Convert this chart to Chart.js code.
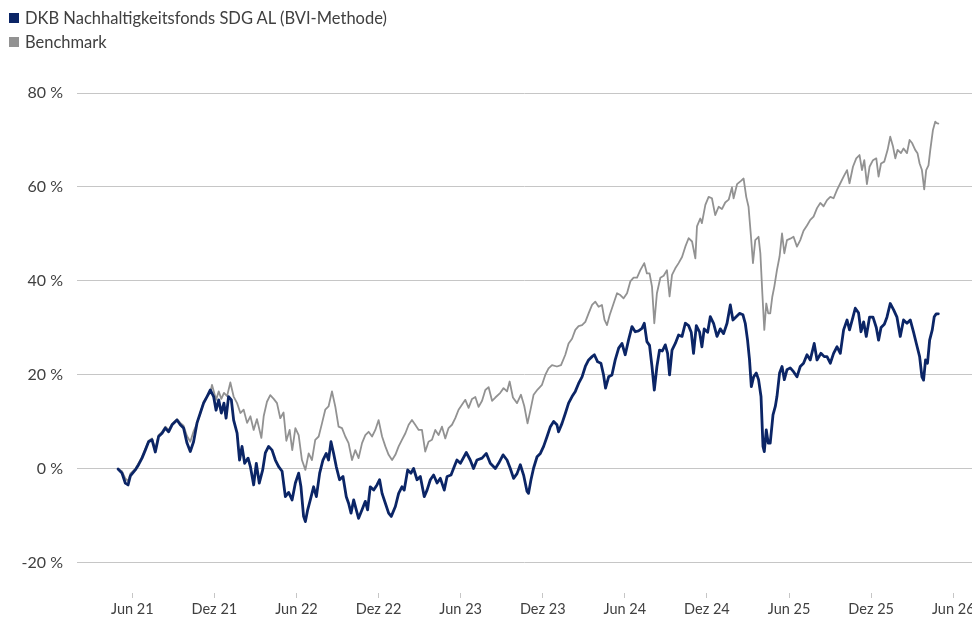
<!DOCTYPE html>
<html lang="de">
<head>
<meta charset="utf-8">
<title>DKB Nachhaltigkeitsfonds SDG AL – Wertentwicklung</title>
<script src="https://cdn.jsdelivr.net/npm/chart.js@4.4.1/dist/chart.umd.min.js"></script>
<style>
  html, body { margin: 0; padding: 0; background: #ffffff; }
  #wrap { position: relative; width: 972px; height: 621px; overflow: hidden; }
  #chart { position: absolute; left: 0; top: 0; }
  .legend-row { position: absolute; left: 0; height: 20px; line-height: 20px;
    font-family: 'Lato', sans-serif; font-size: 16.5px; color: #404040; white-space: nowrap; }
  .legend-row .sw { position: absolute; left: 9px; top: 5px; width: 10px; height: 10px; }
  .legend-row .tx { position: absolute; left: 25px; top: 0; }
</style>
</head>
<body>
<div id="wrap">
  <canvas id="chart" width="972" height="621"></canvas>
  <div class="legend-row" id="lg0" style="top:8px"><span class="sw"></span><span class="tx"></span></div>
  <div class="legend-row" id="lg1" style="top:32px"><span class="sw"></span><span class="tx"></span></div>
</div>
<script>
// Series names and colours
const seriesNames = ['DKB Nachhaltigkeitsfonds SDG AL (BVI-Methode)', 'Benchmark'];
const seriesColors = ['#0b2566', '#929292'];

// Time axis labels (month abbreviation + two-digit year)
const tickLabels = ['Jun 21', 'Dez 21', 'Jun 22', 'Dez 22', 'Jun 23', 'Dez 23',
                    'Jun 24', 'Dez 24', 'Jun 25', 'Dez 25', 'Jun 26'];
const yTicks = [-20, 0, 20, 40, 60, 80];

// Fund: observation dates (decimal years) and cumulative performance in %
const fundDates = [
  2021.330, 2021.354, 2021.374, 2021.391, 2021.405, 2021.435, 2021.455, 2021.476, 2021.496, 2021.516,
  2021.537, 2021.557, 2021.577, 2021.598, 2021.618, 2021.638, 2021.659, 2021.689, 2021.709, 2021.729,
  2021.750, 2021.770, 2021.790, 2021.811, 2021.831, 2021.851, 2021.872, 2021.892, 2021.912, 2021.927,
  2021.943, 2021.959, 2021.975, 2021.988, 2022.003, 2022.020, 2022.034, 2022.055, 2022.070, 2022.085,
  2022.101, 2022.122, 2022.136, 2022.156, 2022.172, 2022.190, 2022.211, 2022.227, 2022.247, 2022.268,
  2022.288, 2022.308, 2022.329, 2022.349, 2022.369, 2022.390, 2022.410, 2022.430, 2022.444, 2022.460,
  2022.471, 2022.485, 2022.501, 2022.521, 2022.538, 2022.558, 2022.578, 2022.598, 2022.612, 2022.627,
  2022.643, 2022.659, 2022.679, 2022.700, 2022.720, 2022.734, 2022.749, 2022.765, 2022.781, 2022.795,
  2022.816, 2022.836, 2022.850, 2022.866, 2022.887, 2022.907, 2022.923, 2022.938, 2022.958, 2022.978,
  2022.994, 2023.019, 2023.039, 2023.059, 2023.073, 2023.094, 2023.114, 2023.130, 2023.151, 2023.171,
  2023.195, 2023.212, 2023.232, 2023.252, 2023.273, 2023.293, 2023.317, 2023.334, 2023.358, 2023.378,
  2023.394, 2023.415, 2023.451, 2023.475, 2023.495, 2023.516, 2023.547, 2023.573, 2023.597, 2023.628,
  2023.648, 2023.675, 2023.699, 2023.719, 2023.739, 2023.760, 2023.780, 2023.800, 2023.821, 2023.830,
  2023.845, 2023.861, 2023.882, 2023.902, 2023.922, 2023.943, 2023.963, 2023.983, 2024.003, 2024.013,
  2024.034, 2024.054, 2024.074, 2024.095, 2024.115, 2024.135, 2024.156, 2024.176, 2024.196, 2024.217,
  2024.231, 2024.251, 2024.271, 2024.287, 2024.299, 2024.318, 2024.338, 2024.358, 2024.379, 2024.399,
  2024.419, 2024.439, 2024.460, 2024.480, 2024.500, 2024.521, 2024.535, 2024.551, 2024.567, 2024.582,
  2024.596, 2024.612, 2024.628, 2024.645, 2024.663, 2024.677, 2024.689, 2024.704, 2024.724, 2024.744,
  2024.765, 2024.785, 2024.805, 2024.821, 2024.835, 2024.852, 2024.872, 2024.886, 2024.900, 2024.921,
  2024.937, 2024.957, 2024.978, 2024.998, 2025.018, 2025.039, 2025.059, 2025.075, 2025.095, 2025.115,
  2025.136, 2025.150, 2025.164, 2025.176, 2025.187, 2025.201, 2025.217, 2025.231, 2025.246, 2025.258,
  2025.266, 2025.278, 2025.290, 2025.302, 2025.319, 2025.333, 2025.343, 2025.359, 2025.374, 2025.388,
  2025.404, 2025.424, 2025.444, 2025.465, 2025.485, 2025.505, 2025.526, 2025.546, 2025.570, 2025.587,
  2025.611, 2025.631, 2025.648, 2025.668, 2025.688, 2025.709, 2025.729, 2025.749, 2025.770, 2025.785,
  2025.806, 2025.820, 2025.840, 2025.855, 2025.871, 2025.887, 2025.907, 2025.928, 2025.948, 2025.962,
  2025.977, 2025.997, 2026.013, 2026.033, 2026.053, 2026.074, 2026.094, 2026.114, 2026.135, 2026.155,
  2026.175, 2026.192, 2026.212, 2026.226, 2026.236, 2026.248, 2026.260, 2026.273, 2026.289, 2026.301,
  2026.313, 2026.326
];
const fundValues = [
  0.0, -0.9, -3.0, -3.4, -1.5, -0.2, 0.9, 2.3, 4.0, 5.8,
  6.2, 3.6, 6.9, 7.6, 8.7, 7.9, 9.4, 10.4, 9.4, 8.7,
  5.5, 3.7, 5.8, 9.8, 11.9, 14.0, 15.4, 16.8, 15.4, 12.5,
  14.7, 11.9, 14.0, 10.8, 15.4, 14.7, 10.4, 7.6, 1.9, 4.8,
  1.2, 2.3, 0.5, -3.4, 1.2, -3.0, -0.2, 3.4, 4.8, 4.0,
  1.9, 0.5, -0.5, -5.9, -5.0, -6.6, -3.0, -0.9, -3.8, -10.1,
  -11.2, -8.7, -6.6, -3.8, -5.9, -0.9, 1.9, 3.3, 1.9, 5.8,
  3.3, 0.5, -2.3, -1.6, -5.9, -7.3, -9.4, -6.6, -8.7, -10.5,
  -8.7, -6.9, -8.7, -3.8, -4.5, -3.4, -2.3, -5.2, -7.3, -9.4,
  -10.1, -8.0, -5.2, -3.8, -4.5, -0.2, -0.9, 0.1, -2.3, -1.6,
  -5.9, -4.5, -2.3, -1.3, -3.0, -2.0, -4.5, -1.6, -1.3, 0.5,
  1.9, 1.2, 3.5, 1.9, 0.1, 1.9, 2.3, 3.3, 1.2, 0.1,
  1.2, 3.0, 1.9, 0.1, -2.0, -1.0, 0.9, -1.3, -4.8, -5.2,
  -2.3, 0.2, 2.6, 3.3, 4.8, 6.9, 9.0, 10.1, 9.4, 7.9,
  9.7, 11.8, 14.0, 15.4, 16.5, 18.2, 19.6, 21.8, 23.2, 23.9,
  24.3, 22.8, 22.5, 20.0, 17.2, 19.6, 20.0, 23.2, 25.7, 26.7,
  24.3, 27.4, 30.3, 29.2, 29.4, 29.9, 31.0, 27.1, 26.3, 21.8,
  16.8, 21.8, 25.3, 25.1, 26.4, 24.6, 20.0, 25.3, 26.7, 28.5,
  28.2, 31.0, 30.5, 29.1, 24.6, 30.5, 29.1, 26.0, 29.8, 29.1,
  32.4, 31.0, 28.2, 29.8, 28.8, 31.0, 34.9, 31.7, 32.4, 33.1,
  32.8, 31.0, 27.4, 23.2, 17.5, 19.6, 20.4, 19.0, 15.4, 4.8,
  3.7, 8.3, 5.5, 5.5, 11.5, 13.3, 15.4, 20.4, 21.8, 19.0,
  21.1, 21.5, 20.7, 19.6, 21.8, 22.5, 24.3, 23.2, 26.7, 23.2,
  24.6, 23.9, 23.9, 22.5, 24.6, 26.0, 24.6, 29.6, 31.7, 29.6,
  32.3, 34.2, 33.2, 29.2, 31.3, 28.2, 32.3, 32.3, 30.1, 27.4,
  30.1, 30.8, 32.3, 35.2, 33.9, 32.3, 28.2, 31.7, 31.0, 31.7,
  29.1, 26.7, 23.9, 19.6, 18.9, 23.2, 22.5, 27.4, 29.6, 32.4,
  33.0, 33.0
];

// Benchmark: observation dates (decimal years) and cumulative performance in %
const benchDates = [
  2021.330, 2021.354, 2021.374, 2021.391, 2021.405, 2021.435, 2021.455, 2021.476, 2021.496, 2021.516,
  2021.537, 2021.557, 2021.577, 2021.598, 2021.618, 2021.638, 2021.659, 2021.689, 2021.709, 2021.729,
  2021.750, 2021.770, 2021.790, 2021.811, 2021.831, 2021.851, 2021.872, 2021.892, 2021.902, 2021.927,
  2021.943, 2021.959, 2021.975, 2021.994, 2022.014, 2022.034, 2022.055, 2022.075, 2022.095, 2022.116,
  2022.136, 2022.156, 2022.176, 2022.203, 2022.217, 2022.237, 2022.257, 2022.278, 2022.298, 2022.318,
  2022.338, 2022.355, 2022.375, 2022.391, 2022.410, 2022.430, 2022.450, 2022.471, 2022.491, 2022.511,
  2022.531, 2022.552, 2022.572, 2022.592, 2022.612, 2022.633, 2022.653, 2022.673, 2022.694, 2022.714,
  2022.734, 2022.755, 2022.775, 2022.795, 2022.816, 2022.836, 2022.856, 2022.877, 2022.897, 2022.917,
  2022.938, 2022.958, 2022.978, 2022.999, 2023.019, 2023.039, 2023.059, 2023.080, 2023.100, 2023.120,
  2023.140, 2023.161, 2023.181, 2023.201, 2023.221, 2023.242, 2023.262, 2023.282, 2023.303, 2023.323,
  2023.343, 2023.364, 2023.384, 2023.404, 2023.445, 2023.465, 2023.486, 2023.506, 2023.526, 2023.547,
  2023.567, 2023.587, 2023.608, 2023.628, 2023.658, 2023.678, 2023.699, 2023.715, 2023.735, 2023.760,
  2023.784, 2023.804, 2023.824, 2023.841, 2023.861, 2023.885, 2023.912, 2023.932, 2023.952, 2023.973,
  2024.003, 2024.028, 2024.054, 2024.074, 2024.095, 2024.115, 2024.135, 2024.156, 2024.176, 2024.196,
  2024.217, 2024.237, 2024.257, 2024.277, 2024.293, 2024.308, 2024.324, 2024.348, 2024.369, 2024.389,
  2024.409, 2024.430, 2024.450, 2024.470, 2024.491, 2024.511, 2024.535, 2024.551, 2024.567, 2024.582,
  2024.596, 2024.612, 2024.633, 2024.653, 2024.673, 2024.689, 2024.704, 2024.724, 2024.744, 2024.765,
  2024.785, 2024.805, 2024.826, 2024.846, 2024.856, 2024.876, 2024.886, 2024.907, 2024.927, 2024.947,
  2024.967, 2024.988, 2025.008, 2025.028, 2025.049, 2025.069, 2025.079, 2025.100, 2025.124, 2025.140,
  2025.156, 2025.170, 2025.185, 2025.197, 2025.211, 2025.231, 2025.242, 2025.254, 2025.266, 2025.278,
  2025.290, 2025.302, 2025.315, 2025.327, 2025.343, 2025.359, 2025.374, 2025.388, 2025.404, 2025.424,
  2025.444, 2025.465, 2025.485, 2025.505, 2025.526, 2025.546, 2025.566, 2025.587, 2025.607, 2025.627,
  2025.648, 2025.668, 2025.688, 2025.709, 2025.729, 2025.749, 2025.770, 2025.785, 2025.806, 2025.826,
  2025.846, 2025.861, 2025.875, 2025.891, 2025.907, 2025.928, 2025.948, 2025.962, 2025.977, 2025.997,
  2026.017, 2026.033, 2026.050, 2026.064, 2026.078, 2026.098, 2026.114, 2026.135, 2026.151, 2026.167,
  2026.185, 2026.199, 2026.212, 2026.226, 2026.240, 2026.252, 2026.266, 2026.277, 2026.293, 2026.307,
  2026.317, 2026.326
];
const benchValues = [
  0.0, -0.5, -2.0, -2.6, -1.0, 0.0, 1.2, 2.6, 4.3, 6.0,
  6.5, 4.2, 7.2, 7.9, 9.0, 8.3, 9.6, 10.6, 9.8, 9.2,
  7.0, 5.8, 8.0, 9.7, 11.9, 14.3, 15.4, 16.2, 17.9, 14.7,
  16.5, 14.9, 16.2, 15.5, 18.4, 15.4, 14.0, 11.9, 12.6, 9.8,
  11.2, 8.3, 10.6, 6.6, 11.2, 14.3, 15.7, 14.9, 14.0, 10.8,
  12.0, 6.0, 8.3, 4.0, 8.7, 7.2, 1.9, -0.2, 3.3, 1.9,
  6.2, 6.9, 9.7, 12.6, 13.3, 16.5, 13.3, 9.0, 8.7, 6.9,
  5.5, 1.9, 4.0, 2.3, 5.5, 7.2, 7.9, 6.9, 8.3, 10.4,
  6.9, 4.8, 3.0, 1.9, 3.0, 4.8, 6.2, 7.6, 9.4, 10.4,
  9.4, 8.3, 8.3, 3.7, 5.8, 6.2, 8.3, 7.2, 9.0, 6.5,
  8.7, 9.4, 10.8, 12.6, 14.7, 13.0, 14.9, 15.3, 13.2, 14.5,
  16.8, 17.4, 14.5, 15.2, 16.2, 17.2, 16.5, 18.6, 15.2, 14.0,
  15.8, 13.4, 9.7, 12.4, 15.8, 16.9, 17.9, 20.0, 21.4, 22.1,
  21.8, 22.1, 24.3, 26.7, 27.7, 29.6, 30.4, 30.6, 31.3, 33.1,
  34.9, 35.6, 34.5, 34.9, 31.7, 30.6, 32.7, 35.2, 37.4, 37.0,
  36.3, 37.4, 39.9, 40.7, 40.7, 42.3, 43.8, 41.6, 41.6, 38.8,
  31.0, 37.4, 40.7, 41.1, 42.3, 36.7, 41.3, 42.7, 43.8, 45.1,
  47.3, 49.1, 48.4, 44.8, 51.6, 53.3, 52.3, 56.2, 57.9, 57.6,
  54.0, 55.8, 55.3, 56.7, 57.3, 59.9, 57.6, 60.6, 61.3, 61.8,
  57.9, 55.8, 49.4, 43.8, 48.7, 49.4, 45.9, 37.4, 29.6, 35.2,
  33.1, 33.1, 36.7, 38.8, 42.3, 45.2, 50.1, 45.9, 48.7, 49.0,
  49.4, 47.3, 48.7, 50.7, 51.8, 53.0, 53.7, 55.5, 56.6, 55.9,
  57.2, 57.9, 57.6, 59.4, 60.8, 62.2, 63.6, 60.8, 64.3, 66.1,
  66.8, 63.6, 65.7, 60.6, 64.3, 65.7, 66.1, 62.2, 65.0, 65.4,
  67.9, 70.7, 68.6, 66.1, 67.9, 67.2, 68.2, 67.2, 70.0, 69.3,
  67.9, 67.2, 65.0, 63.6, 59.5, 63.6, 64.6, 67.9, 72.1, 73.9,
  73.6, 73.5
];

// Month abbreviation -> position within the year
const monthIndex = { Jan: 0, Feb: 1, Mrz: 2, Apr: 3, Mai: 4, Jun: 5, Jul: 6, Aug: 7, Sep: 8, Okt: 9, Nov: 10, Dez: 11 };
const tickValues = tickLabels.map(l => {
  const [m, y] = l.split(' ');
  return 2000 + Number(y) + monthIndex[m] / 12;
});

const toPoints = (dates, values) => dates.map((t, i) => ({ x: t, y: values[i] }));

const FONT = 'Lato, sans-serif';
const TEXT = '#404040';
const GRID = '#c6c6c6';

// HTML legend
[0, 1].forEach(i => {
  const row = document.getElementById('lg' + i);
  row.querySelector('.sw').style.background = seriesColors[i];
  row.querySelector('.tx').textContent = seriesNames[i];
});

new Chart(document.getElementById('chart').getContext('2d'), {
  type: 'line',
  data: {
    datasets: [
      {
        label: seriesNames[0],
        data: toPoints(fundDates, fundValues),
        borderColor: seriesColors[0],
        borderWidth: 2.8,
        pointRadius: 0,
        fill: false
      },
      {
        label: seriesNames[1],
        data: toPoints(benchDates, benchValues),
        borderColor: seriesColors[1],
        borderWidth: 1.8,
        pointRadius: 0,
        fill: false
      }
    ]
  },
  options: {
    responsive: false,
    animation: false,
    devicePixelRatio: 1,
    layout: { padding: { top: 93, left: 0, right: 0, bottom: 0 } },
    elements: { line: { tension: 0, borderJoinStyle: 'round', borderCapStyle: 'round' } },
    plugins: {
      legend: { display: false },
      tooltip: { enabled: false }
    },
    scales: {
      x: {
        type: 'linear',
        min: 2021.080,
        max: 2026.531,
        border: { display: false },
        grid: { drawOnChartArea: false, drawTicks: true, tickLength: 5, color: GRID },
        ticks: {
          autoSkip: false,
          maxRotation: 0,
          padding: 3,
          color: TEXT,
          font: { family: FONT, size: 14.5 },
          callback: (v, i) => tickLabels[i]
        },
        afterBuildTicks: s => { s.ticks = tickValues.map(v => ({ value: v })); },
        afterFit: s => { s.height = 28; s.paddingLeft = 0; s.paddingRight = 0; }
      },
      y: {
        min: -26.4,
        max: 80,
        border: { display: false },
        grid: { color: GRID, drawTicks: false },
        ticks: {
          padding: 14,
          color: TEXT,
          font: { family: FONT, size: 16 },
          callback: v => v + ' %'
        },
        afterBuildTicks: s => { s.ticks = yTicks.map(v => ({ value: v })); },
        afterFit: s => { s.width = 77; s.paddingTop = 0; s.paddingBottom = 0; }
      }
    }
  }
});
</script>
</body>
</html>
